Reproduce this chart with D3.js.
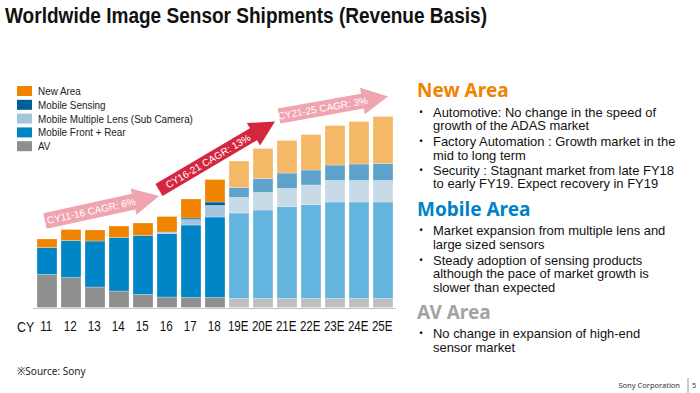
<!DOCTYPE html>
<html>
<head>
<meta charset="utf-8">
<script src="https://cdn.jsdelivr.net/npm/d3@7"></script>
<style>
  html, body { margin: 0; padding: 0; background: #fff; }
  svg { display: block; }
</style>
</head>
<body>
<div id="chart"></div>
<script>
// values (relative units, no axis in the original)
const years = ["11", "12", "13", "14", "15", "16", "17", "18", "19E", "20E", "21E", "22E", "23E", "24E", "25E"]
const av = [33, 30, 20.5, 16.5, 13, 10.5, 10, 10, 9, 9, 9, 9, 9, 9, 9]
const mobileFront = [27, 37, 46, 53.5, 59, 63.5, 72.5, 80.5, 85.5, 88.5, 92, 94, 96.5, 96.5, 96.5]
const mobileMulti = [0, 0, 0, 0, 0, 1.5, 5.5, 11.5, 15.5, 17.5, 18, 19.5, 21.5, 21.5, 21.5]
const mobileSensing = [0, 0, 0, 0, 0, 0, 1.5, 3.5, 10, 14, 15.5, 15, 15.5, 16.5, 17]
const newArea = [8.5, 11, 11, 11.5, 12.5, 15.5, 19, 22.5, 26.5, 30, 32.5, 35.5, 39.5, 42.5, 47]

const keys = ["av", "front", "multi", "sensing", "newArea"]
const legendKeys = ["newArea", "sensing", "multi", "front", "av"]
const legendLabels = ["New Area", "Mobile Sensing", "Mobile Multiple Lens (Sub Camera)", "Mobile Front + Rear", "AV"]

const colorsActual = { av: "#8f8f8f", front: "#0085c7", multi: "#a6c5dd", sensing: "#005e9c", newArea: "#f08300" }
const colorsForecast = { av: "#bfbfbf", front: "#63b4df", multi: "#c8dae5", sensing: "#5fa3cd", newArea: "#f5b867" }

const cagrLabels = ["CY11-16 CAGR: 6%", "CY16-21 CAGR: 13%", "CY21-25 CAGR: 3%"]

const width = 700, height = 393

const data = years.map((yr, i) => ({
   year: yr, av: av[i], front: mobileFront[i], multi: mobileMulti[i],
   sensing: mobileSensing[i], newArea: newArea[i]
}))

const series = d3.stack().keys(keys)(data)

const x = d3.scaleBand()
   .domain(years)
   .range([35, 395])
   .paddingInner(0.1667)
   .paddingOuter(0.0833)

const y = d3.scaleLinear()
   .domain([0, 200])
   .range([307.5, 107.5])

const svg = d3.select("#chart").append("svg")
   .attr("width", width)
   .attr("height", height)
   .attr("viewBox", [0, 0, width, height])
   .attr("font-family", "'Noto Sans', sans-serif")

// title
svg.append("text")
   .attr("x", 5)
   .attr("y", 23)
   .attr("font-size", 22)
   .attr("font-weight", "bold")
   .attr("font-family", "'Liberation Sans', Arial, sans-serif")
   .attr("fill", "#111")
   .attr("textLength", 482)
   .attr("lengthAdjust", "spacingAndGlyphs")
   .text("Worldwide Image Sensor Shipments (Revenue Basis)")

// bars
svg.append("g")
   .selectAll("g")
   .data(series)
   .join("g")
   .selectAll("rect")
   .data(s => s.map(d => Object.assign(d, { key: s.key })))
   .join("rect")
   .filter(d => d[1] - d[0] > 0)
   .attr("x", d => x(d.data.year))
   .attr("y", d => y(d[1]))
   .attr("width", x.bandwidth())
   .attr("height", d => y(d[0]) - y(d[1]))
   .attr("fill", d => d.data.year.endsWith("E") ? colorsForecast[d.key] : colorsActual[d.key])
   .attr("stroke", "rgba(255,255,255,0.35)")
   .attr("stroke-width", 0.8)

// baseline
svg.append("line")
   .attr("x1", 33).attr("x2", 396)
   .attr("y1", y(0) + 1).attr("y2", y(0) + 1)
   .attr("stroke", "#c4c4c4")
   .attr("stroke-width", 1)

// x axis labels
const xAxis = g => g
   .attr("transform", `translate(0,${y(0)})`)
   .call(d3.axisBottom(x).tickSize(0))
   .call(g => g.select(".domain").remove())
   .call(g => g.selectAll("text")
      .attr("y", 24)
      .attr("dy", 0)
      .attr("dx", -1)
      .attr("font-size", 14.5)
      .attr("font-family", "'Liberation Sans', Arial, sans-serif")
      .attr("fill", "#111")
      .attr("transform", "scale(0.8,1)"))

svg.append("g").call(xAxis)

svg.append("text")
   .attr("transform", `translate(17,${y(0) + 24}) scale(0.85,1)`)
   .attr("font-size", 14.5)
   .attr("font-family", "'Liberation Sans', Arial, sans-serif")
   .attr("fill", "#111")
   .text("CY")

// legend
const legend = svg.append("g")
   .selectAll("g")
   .data(legendKeys)
   .join("g")
   .attr("transform", (d, i) => `translate(17,${91 + i * 13.8})`)

legend.append("rect")
   .attr("x", 0).attr("y", -5)
   .attr("width", 15).attr("height", 10)
   .attr("fill", d => colorsActual[d])

legend.append("text")
   .attr("transform", "translate(21,4) scale(0.86,1)")
   .attr("font-size", 11.5)
   .attr("font-family", "'Liberation Sans', Arial, sans-serif")
   .attr("fill", "#222")
   .text((d, i) => legendLabels[i])

// CAGR arrows
function arrow(x0, y0, x1, y1, thick, headW, headL, fill, label) {
   const len = Math.hypot(x1 - x0, y1 - y0)
   const ang = Math.atan2(y1 - y0, x1 - x0) * 180 / Math.PI
   const g = svg.append("g")
      .attr("transform", `translate(${x0},${y0}) rotate(${ang})`)
   const b = len - headL
   g.append("path")
      .attr("d", `M0,${-thick / 2}L${b},${-thick / 2}L${b},${-headW / 2}L${len},0L${b},${headW / 2}L${b},${thick / 2}L0,${thick / 2}Z`)
      .attr("fill", fill)
   g.append("text")
      .attr("x", b / 2 + 2)
      .attr("y", 0)
      .attr("dy", "0.36em")
      .attr("text-anchor", "middle")
      .attr("font-size", 10)
      .attr("font-family", "'Liberation Sans', Arial, sans-serif")
      .attr("fill", "#fff")
      .text(label)
}

arrow(45, 221, 159, 196, 16, 27, 26, "#f0a4b0", cagrLabels[0])
arrow(159, 190, 275, 121.5, 14, 26, 25, "#d4263e", cagrLabels[1])
arrow(279, 116, 388, 96.5, 15, 27, 26, "#f0a4b0", cagrLabels[2])

// right side commentary: one text per bullet, wrapped lines as tspans
const sections = [
   { head: "New Area", color: "#f08300", y: 97, bullets: [
      { y: 116.5, lines: ["Automotive: No change in the speed of", "growth of the ADAS market"] },
      { y: 146, lines: ["Factory Automation : Growth market in the", "mid to long term"] },
      { y: 174.5, lines: ["Security : Stagnant market from late FY18", "to early FY19. Expect recovery in FY19"] }
   ] },
   { head: "Mobile Area", color: "#0083c6", y: 216, bullets: [
      { y: 235, lines: ["Market expansion from multiple lens and", "large sized sensors"] },
      { y: 264.5, lines: ["Steady adoption of sensing products", "although the pace of market growth is", "slower than expected"] }
   ] },
   { head: "AV Area", color: "#a3a3a3", y: 318.5, bullets: [
      { y: 338, lines: ["No change in expansion of high-end", "sensor market"] }
   ] }
]

sections.forEach(s => {
   svg.append("text")
      .attr("x", 417)
      .attr("y", s.y)
      .attr("font-size", 19)
      .attr("font-weight", "bold")
      .attr("fill", s.color)
      .text(s.head)
   s.bullets.forEach(b => {
      svg.append("text")
         .attr("x", 419)
         .attr("y", b.y - 1)
         .attr("font-size", 11)
         .attr("fill", "#111")
         .text("•")
      b.lines.forEach((line, i) => {
         svg.append("text")
            .attr("transform", `translate(433,${b.y + i * 13.5}) scale(1.08,1)`)
            .attr("font-size", 12)
            .attr("font-family", "'Liberation Sans', Arial, sans-serif")
            .attr("fill", "#111")
            .text(line)
      })
   })
})

// footer
svg.append("text")
   .attr("x", 17)
   .attr("y", 375)
   .attr("font-size", 10)
   .attr("fill", "#222")
   .text("※Source: Sony")

svg.append("text")
   .attr("x", 680)
   .attr("y", 388)
   .attr("text-anchor", "end")
   .attr("font-size", 7.5)
   .attr("fill", "#333")
   .text("Sony Corporation")

svg.append("line")
   .attr("x1", 688).attr("x2", 688)
   .attr("y1", 378).attr("y2", 393)
   .attr("stroke", "#999")

svg.append("text")
   .attr("x", 692)
   .attr("y", 388)
   .attr("font-size", 7.5)
   .attr("fill", "#333")
   .text("5")
</script>
</body>
</html>
